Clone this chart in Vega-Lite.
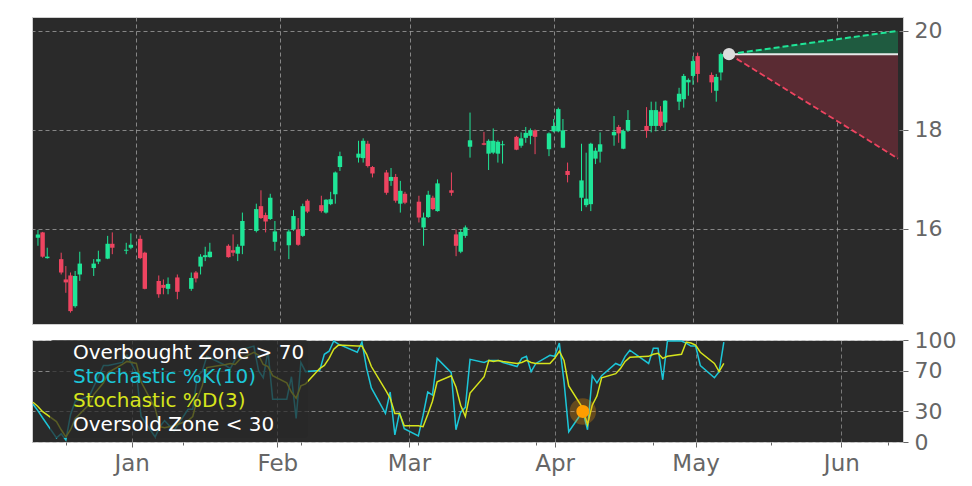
{
  "$schema": "https://vega.github.io/schema/vega-lite/v6.json",
  "background": "white",
  "padding": {"left": 31, "top": 16, "right": 0, "bottom": 0},
  "spacing": 16,
  "bounds": "flush",
  "resolve": {"scale": {"color": "independent"}, "legend": {"color": "independent"}},
  "config": {
    "view": {"fill": "#2a2a2a", "stroke": "#cfcfcf", "strokeWidth": 1},
    "axis": {
      "labelFont": "DejaVu Sans", "labelFontSize": 22, "labelColor": "#666666",
      "tickColor": "#666666", "tickSize": 5, "tickWidth": 1, "labelPadding": 6,
      "domain": false, "grid": true, "gridColor": "#b4b4b4", "gridDash": [4, 3], "gridWidth": 0.8, "gridOpacity": 0.85,
      "labelOverlap": false, "title": null
    }
  },
  "datasets": {
    "px": [
      {"d":"2024-12-11","o":15.82,"h":15.98,"l":15.66,"c":15.89,"k":37,"sd":39},
      {"d":"2024-12-12","o":15.93,"h":15.94,"l":15.42,"c":15.44,"k":31,"sd":35},
      {"d":"2024-12-13","o":15.41,"h":15.62,"l":15.40,"c":15.44,"k":24,"sd":30},
      {"d":"2024-12-16","o":15.39,"h":15.52,"l":15.08,"c":15.12,"k":4,"sd":20},
      {"d":"2024-12-17","o":14.98,"h":15.25,"l":14.71,"c":14.92,"k":8,"sd":12},
      {"d":"2024-12-18","o":15.06,"h":15.12,"l":14.31,"c":14.34,"k":2,"sd":5},
      {"d":"2024-12-19","o":14.44,"h":15.15,"l":14.41,"c":15.05,"k":27,"sd":12},
      {"d":"2024-12-20","o":15.08,"h":15.54,"l":14.95,"c":15.30,"k":40,"sd":23},
      {"d":"2024-12-23","o":15.21,"h":15.39,"l":15.05,"c":15.30,"k":45,"sd":37},
      {"d":"2024-12-24","o":15.34,"h":15.56,"l":15.29,"c":15.39,"k":55,"sd":47},
      {"d":"2024-12-26","o":15.40,"h":15.86,"l":15.39,"c":15.70,"k":75,"sd":58},
      {"d":"2024-12-27","o":15.70,"h":15.93,"l":15.49,"c":15.62,"k":75,"sd":68},
      {"d":"2024-12-30","o":15.56,"h":15.72,"l":15.49,"c":15.58,"k":78,"sd":76},
      {"d":"2024-12-31","o":15.62,"h":15.91,"l":15.59,"c":15.68,"k":85,"sd":79},
      {"d":"2025-01-02","o":15.80,"h":15.87,"l":15.39,"c":15.41,"k":68,"sd":77},
      {"d":"2025-01-03","o":15.52,"h":15.54,"l":14.78,"c":14.79,"k":25,"sd":59},
      {"d":"2025-01-06","o":14.95,"h":15.06,"l":14.61,"c":14.68,"k":5,"sd":33},
      {"d":"2025-01-07","o":14.87,"h":14.98,"l":14.68,"c":14.81,"k":15,"sd":15},
      {"d":"2025-01-08","o":14.79,"h":15.02,"l":14.68,"c":14.89,"k":21,"sd":14},
      {"d":"2025-01-10","o":15.02,"h":15.08,"l":14.58,"c":14.73,"k":11,"sd":16},
      {"d":"2025-01-13","o":14.79,"h":15.12,"l":14.75,"c":15.01,"k":32,"sd":21},
      {"d":"2025-01-14","o":15.12,"h":15.15,"l":14.92,"c":15.00,"k":32,"sd":25},
      {"d":"2025-01-15","o":15.24,"h":15.49,"l":15.08,"c":15.44,"k":65,"sd":43},
      {"d":"2025-01-16","o":15.43,"h":15.64,"l":15.35,"c":15.47,"k":69,"sd":55},
      {"d":"2025-01-17","o":15.43,"h":15.72,"l":15.42,"c":15.54,"k":84,"sd":73},
      {"d":"2025-01-21","o":15.66,"h":15.69,"l":15.42,"c":15.43,"k":75,"sd":76},
      {"d":"2025-01-22","o":15.57,"h":15.89,"l":15.45,"c":15.52,"k":72,"sd":77},
      {"d":"2025-01-23","o":15.50,"h":15.69,"l":15.35,"c":15.64,"k":81,"sd":76},
      {"d":"2025-01-24","o":15.66,"h":16.33,"l":15.49,"c":16.16,"k":90,"sd":81},
      {"d":"2025-01-27","o":15.96,"h":16.51,"l":15.93,"c":16.40,"k":94,"sd":88},
      {"d":"2025-01-28","o":16.46,"h":16.78,"l":16.20,"c":16.22,"k":70,"sd":85},
      {"d":"2025-01-29","o":16.28,"h":16.33,"l":15.93,"c":16.15,"k":63,"sd":76},
      {"d":"2025-01-30","o":16.20,"h":16.71,"l":16.18,"c":16.63,"k":89,"sd":74},
      {"d":"2025-01-31","o":15.74,"h":16.16,"l":15.56,"c":15.95,"k":42,"sd":65},
      {"d":"2025-02-03","o":15.67,"h":15.99,"l":15.39,"c":15.95,"k":42,"sd":58},
      {"d":"2025-02-04","o":15.99,"h":16.38,"l":15.96,"c":16.26,"k":64,"sd":49},
      {"d":"2025-02-05","o":15.99,"h":16.22,"l":15.66,"c":15.68,"k":23,"sd":43},
      {"d":"2025-02-06","o":15.86,"h":16.51,"l":15.84,"c":16.46,"k":78,"sd":55},
      {"d":"2025-02-07","o":16.57,"h":16.60,"l":16.32,"c":16.35,"k":69,"sd":57},
      {"d":"2025-02-10","o":16.48,"h":16.67,"l":16.33,"c":16.36,"k":70,"sd":72},
      {"d":"2025-02-11","o":16.33,"h":16.60,"l":16.31,"c":16.59,"k":86,"sd":75},
      {"d":"2025-02-12","o":16.50,"h":16.75,"l":16.48,"c":16.60,"k":89,"sd":82},
      {"d":"2025-02-13","o":16.70,"h":17.16,"l":16.51,"c":17.14,"k":99,"sd":91},
      {"d":"2025-02-14","o":17.25,"h":17.56,"l":17.17,"c":17.47,"k":96,"sd":95},
      {"d":"2025-02-18","o":17.44,"h":17.78,"l":17.34,"c":17.52,"k":88,"sd":94},
      {"d":"2025-02-19","o":17.43,"h":17.83,"l":17.34,"c":17.78,"k":98,"sd":94},
      {"d":"2025-02-20","o":17.72,"h":17.78,"l":17.24,"c":17.27,"k":72,"sd":86},
      {"d":"2025-02-21","o":17.25,"h":17.27,"l":17.04,"c":17.12,"k":53,"sd":74},
      {"d":"2025-02-24","o":17.14,"h":17.19,"l":16.69,"c":16.73,"k":28,"sd":51},
      {"d":"2025-02-25","o":16.97,"h":17.23,"l":16.87,"c":17.05,"k":49,"sd":43},
      {"d":"2025-02-26","o":17.05,"h":17.11,"l":16.53,"c":16.57,"k":7,"sd":28},
      {"d":"2025-02-27","o":16.51,"h":16.97,"l":16.33,"c":16.77,"k":29,"sd":28},
      {"d":"2025-02-28","o":16.71,"h":16.75,"l":16.50,"c":16.53,"k":13,"sd":16},
      {"d":"2025-03-03","o":16.55,"h":16.67,"l":16.13,"c":16.23,"k":6,"sd":16},
      {"d":"2025-03-04","o":16.03,"h":16.33,"l":15.66,"c":16.23,"k":26,"sd":15},
      {"d":"2025-03-05","o":16.24,"h":16.77,"l":16.22,"c":16.69,"k":49,"sd":27},
      {"d":"2025-03-06","o":16.63,"h":16.67,"l":16.38,"c":16.40,"k":46,"sd":40},
      {"d":"2025-03-07","o":16.36,"h":17.00,"l":16.35,"c":16.92,"k":82,"sd":59},
      {"d":"2025-03-10","o":16.78,"h":17.14,"l":16.67,"c":16.73,"k":68,"sd":65},
      {"d":"2025-03-11","o":15.89,"h":15.99,"l":15.45,"c":15.66,"k":12,"sd":54},
      {"d":"2025-03-12","o":15.54,"h":15.99,"l":15.51,"c":15.94,"k":29,"sd":36},
      {"d":"2025-03-13","o":15.86,"h":16.07,"l":15.82,"c":16.03,"k":34,"sd":25},
      {"d":"2025-03-14","o":17.66,"h":18.35,"l":17.44,"c":17.79,"k":81,"sd":48},
      {"d":"2025-03-17","o":17.73,"h":17.96,"l":17.69,"c":17.70,"k":78,"sd":64},
      {"d":"2025-03-18","o":17.52,"h":17.81,"l":17.19,"c":17.78,"k":80,"sd":80},
      {"d":"2025-03-19","o":17.54,"h":18.03,"l":17.51,"c":17.78,"k":80,"sd":79},
      {"d":"2025-03-20","o":17.52,"h":17.79,"l":17.34,"c":17.76,"k":80,"sd":80},
      {"d":"2025-03-21","o":17.69,"h":17.78,"l":17.32,"c":17.71,"k":78,"sd":79},
      {"d":"2025-03-24","o":17.86,"h":17.88,"l":17.59,"c":17.60,"k":74,"sd":77},
      {"d":"2025-03-25","o":17.68,"h":17.95,"l":17.64,"c":17.83,"k":82,"sd":78},
      {"d":"2025-03-26","o":17.84,"h":18.06,"l":17.74,"c":17.94,"k":84,"sd":80},
      {"d":"2025-03-27","o":17.88,"h":18.03,"l":17.71,"c":17.99,"k":69,"sd":78},
      {"d":"2025-03-28","o":17.99,"h":18.01,"l":17.51,"c":17.86,"k":77,"sd":77},
      {"d":"2025-03-31","o":17.61,"h":17.95,"l":17.47,"c":17.93,"k":85,"sd":77},
      {"d":"2025-04-01","o":17.97,"h":18.22,"l":17.95,"c":18.08,"k":84,"sd":82},
      {"d":"2025-04-02","o":17.97,"h":18.45,"l":17.95,"c":18.42,"k":97,"sd":89},
      {"d":"2025-04-03","o":17.64,"h":18.22,"l":17.63,"c":17.99,"k":59,"sd":80},
      {"d":"2025-04-04","o":17.17,"h":17.34,"l":16.94,"c":17.09,"k":10,"sd":55},
      {"d":"2025-04-07","o":16.63,"h":17.72,"l":16.36,"c":16.98,"k":30,"sd":33},
      {"d":"2025-04-08","o":16.48,"h":17.54,"l":16.44,"c":16.61,"k":12,"sd":17},
      {"d":"2025-04-09","o":16.50,"h":17.74,"l":16.36,"c":17.72,"k":65,"sd":36},
      {"d":"2025-04-10","o":17.42,"h":17.64,"l":17.31,"c":17.58,"k":58,"sd":45},
      {"d":"2025-04-11","o":17.56,"h":17.95,"l":17.34,"c":17.71,"k":65,"sd":63},
      {"d":"2025-04-14","o":17.89,"h":18.28,"l":17.68,"c":17.96,"k":77,"sd":67},
      {"d":"2025-04-15","o":18.06,"h":18.10,"l":17.74,"c":17.93,"k":75,"sd":72},
      {"d":"2025-04-16","o":17.62,"h":18.01,"l":17.61,"c":17.98,"k":84,"sd":79},
      {"d":"2025-04-17","o":17.99,"h":18.40,"l":17.96,"c":18.20,"k":90,"sd":83},
      {"d":"2025-04-21","o":18.08,"h":18.46,"l":17.84,"c":17.98,"k":77,"sd":84},
      {"d":"2025-04-22","o":18.08,"h":18.57,"l":17.95,"c":18.40,"k":92,"sd":86},
      {"d":"2025-04-23","o":18.08,"h":18.57,"l":17.97,"c":18.40,"k":92,"sd":87},
      {"d":"2025-04-24","o":18.37,"h":18.48,"l":18.05,"c":18.08,"k":61,"sd":82},
      {"d":"2025-04-25","o":18.15,"h":18.60,"l":17.98,"c":18.59,"k":99,"sd":84},
      {"d":"2025-04-28","o":18.57,"h":18.85,"l":18.40,"c":18.73,"k":99,"sd":86},
      {"d":"2025-04-29","o":18.62,"h":19.13,"l":18.45,"c":19.09,"k":97,"sd":98},
      {"d":"2025-04-30","o":18.96,"h":19.04,"l":18.69,"c":19.01,"k":94,"sd":97},
      {"d":"2025-05-01","o":19.09,"h":19.49,"l":18.91,"c":19.39,"k":94,"sd":95},
      {"d":"2025-05-02","o":19.49,"h":19.56,"l":18.96,"c":19.13,"k":75,"sd":88},
      {"d":"2025-05-05","o":19.11,"h":19.16,"l":18.75,"c":18.96,"k":63,"sd":77},
      {"d":"2025-05-06","o":18.79,"h":19.13,"l":18.57,"c":19.07,"k":69,"sd":69},
      {"d":"2025-05-07","o":19.16,"h":19.56,"l":19.00,"c":19.53,"k":98,"sd":77}
    ],
    "proj": [
      {"d":"2025-05-08T18:00:00Z","base":19.53,"up":19.53,"dn":19.53},
      {"d":"2025-06-14T03:00:00Z","base":19.53,"up":20.0,"dn":17.42}
    ],
    "last": [{"d":"2025-05-08T18:00:00Z","p":19.53}],
    "signal": [{"d":"2025-04-07","v":30}]
  },
  "vconcat": [
    {
      "width": 871,
      "height": 307,
      "encoding": {
        "x": {
          "field": "d", "type": "temporal",
          "scale": {"type": "utc", "domain": [{"year":2024,"month":12,"date":10,"hours":19,"utc":true},{"year":2025,"month":6,"date":14,"hours":3,"utc":true}]},
          "axis": {"labels": false, "ticks": false,
            "values": [{"year":2025,"month":1,"date":1,"utc":true},{"year":2025,"month":2,"date":1,"utc":true},{"year":2025,"month":3,"date":1,"utc":true},{"year":2025,"month":4,"date":1,"utc":true},{"year":2025,"month":5,"date":1,"utc":true},{"year":2025,"month":6,"date":1,"utc":true}]}
        }
      },
      "layer": [
        {
          "data": {"name": "px"},
          "mark": {"type": "rule", "strokeWidth": 1, "clip": true},
          "encoding": {
            "y": {"field": "l", "type": "quantitative", "scale": {"domain": [14.08, 20.28], "nice": false, "zero": false},
              "axis": {"orient": "right", "values": [16, 18, 20]}},
            "y2": {"field": "h"},
            "color": {"condition": {"test": "datum.c >= datum.o", "value": "#1fe597"}, "value": "#ee4460"}
          }
        },
        {
          "data": {"name": "px"},
          "mark": {"type": "bar", "width": 4.4, "clip": true},
          "encoding": {
            "y": {"field": "o", "type": "quantitative"},
            "y2": {"field": "c"},
            "color": {"condition": {"test": "datum.c >= datum.o", "value": "#1fe597"}, "value": "#ee4460"}
          }
        },
        {
          "data": {"name": "proj"},
          "mark": {"type": "area", "color": "#1f5b40", "opacity": 1, "clip": true},
          "encoding": {"y": {"field": "base", "type": "quantitative"}, "y2": {"field": "up"}}
        },
        {
          "data": {"name": "proj"},
          "mark": {"type": "area", "color": "#5a2b33", "opacity": 1, "clip": true},
          "encoding": {"y": {"field": "base", "type": "quantitative"}, "y2": {"field": "dn"}}
        },
        {
          "data": {"name": "proj"},
          "mark": {"type": "line", "color": "#e8e8e8", "strokeWidth": 2, "clip": true},
          "encoding": {"y": {"field": "base", "type": "quantitative"}}
        },
        {
          "data": {"name": "proj"},
          "mark": {"type": "line", "color": "#1fe597", "strokeWidth": 2, "strokeDash": [6, 3], "clip": true},
          "encoding": {"y": {"field": "up", "type": "quantitative"}}
        },
        {
          "data": {"name": "proj"},
          "mark": {"type": "line", "color": "#ee4460", "strokeWidth": 1.8, "strokeDash": [6, 3], "clip": true},
          "encoding": {"y": {"field": "dn", "type": "quantitative"}}
        },
        {
          "data": {"name": "last"},
          "mark": {"type": "point", "filled": true, "color": "#dcdcdc", "size": 150, "opacity": 1},
          "encoding": {"y": {"field": "p", "type": "quantitative"}}
        }
      ]
    },
    {
      "width": 871,
      "height": 102,
      "encoding": {
        "x": {
          "field": "d", "type": "temporal",
          "scale": {"type": "utc", "domain": [{"year":2024,"month":12,"date":10,"hours":19,"utc":true},{"year":2025,"month":6,"date":14,"hours":3,"utc":true}]},
          "axis": {"labelPadding": 5, "labelFontSize": 23,
            "labelExpr": "utcdate(datum.value) === 1 ? utcFormat(datum.value, '%b') : ''",
            "tickSize": {"condition": {"test": "utcdate(datum.value) === 1", "value": 5}, "value": 3},
            "gridOpacity": {"condition": {"test": "utcdate(datum.value) === 1", "value": 0.85}, "value": 0},
            "values": [{"year":2024,"month":12,"date":18,"utc":true},{"year":2025,"month":1,"date":1,"utc":true},{"year":2025,"month":1,"date":12,"utc":true},{"year":2025,"month":2,"date":1,"utc":true},{"year":2025,"month":2,"date":6,"utc":true},{"year":2025,"month":3,"date":1,"utc":true},{"year":2025,"month":3,"date":3,"utc":true},{"year":2025,"month":3,"date":28,"utc":true},{"year":2025,"month":4,"date":1,"utc":true},{"year":2025,"month":4,"date":22,"utc":true},{"year":2025,"month":5,"date":1,"utc":true},{"year":2025,"month":5,"date":17,"utc":true},{"year":2025,"month":6,"date":1,"utc":true},{"year":2025,"month":6,"date":11,"utc":true}]}
        },
        "y": {
          "field": "v", "type": "quantitative",
          "scale": {"domain": [0, 100], "nice": false, "zero": false},
          "axis": {"orient": "right", "values": [0, 30, 70, 100], "grid": true, "labelOverlap": false, "gridOpacity": 0.85, "tickCount": 4}
        }
      },
      "layer": [
        {
          "data": {"name": "px"},
          "transform": [{"fold": ["k", "sd"], "as": ["s", "v"]}],
          "mark": {"type": "line", "strokeWidth": 1.5, "clip": true},
          "encoding": {
            "color": {"field": "s", "type": "nominal",
              "scale": {"domain": ["ob", "k", "sd", "os"],
                        "range": ["#ffffff", "#1cc6d8", "#d6e41c", "#ffffff"]},
              "legend": {
                "title": null, "orient": "none", "legendX": 18, "legendY": 0, "zindex": 1,
                "fillColor": "rgba(40,40,40,0.72)", "padding": 3, "cornerRadius": 3,
                "labelFont": "DejaVu Sans", "labelFontSize": 20, "labelOffset": 0, "rowPadding": 4,
                "symbolType": "circle", "symbolSize": 0, "symbolOpacity": 0, "symbolStrokeWidth": 0, "labelLimit": 400,
                "labelExpr": "datum.value === 'k' ? 'Stochastic %K(10)' : datum.value === 'sd' ? 'Stochastic %D(3)' : datum.value === 'ob' ? 'Overbought Zone > 70' : 'Oversold Zone < 30'",
                "encode": {"labels": {"update": {"fill": {"signal": "datum.value === 'k' ? '#1cc6d8' : datum.value === 'sd' ? '#d6e41c' : '#ffffff'"}}}}
              }
            }
          }
        },
        {
          "data": {"name": "signal"},
          "mark": {"type": "point", "filled": true, "color": "#ff9d00", "size": 700, "opacity": 0.28}
        },
        {
          "data": {"name": "signal"},
          "mark": {"type": "point", "filled": true, "color": "#ff9d00", "size": 170, "opacity": 1}
        }
      ]
    }
  ]
}
